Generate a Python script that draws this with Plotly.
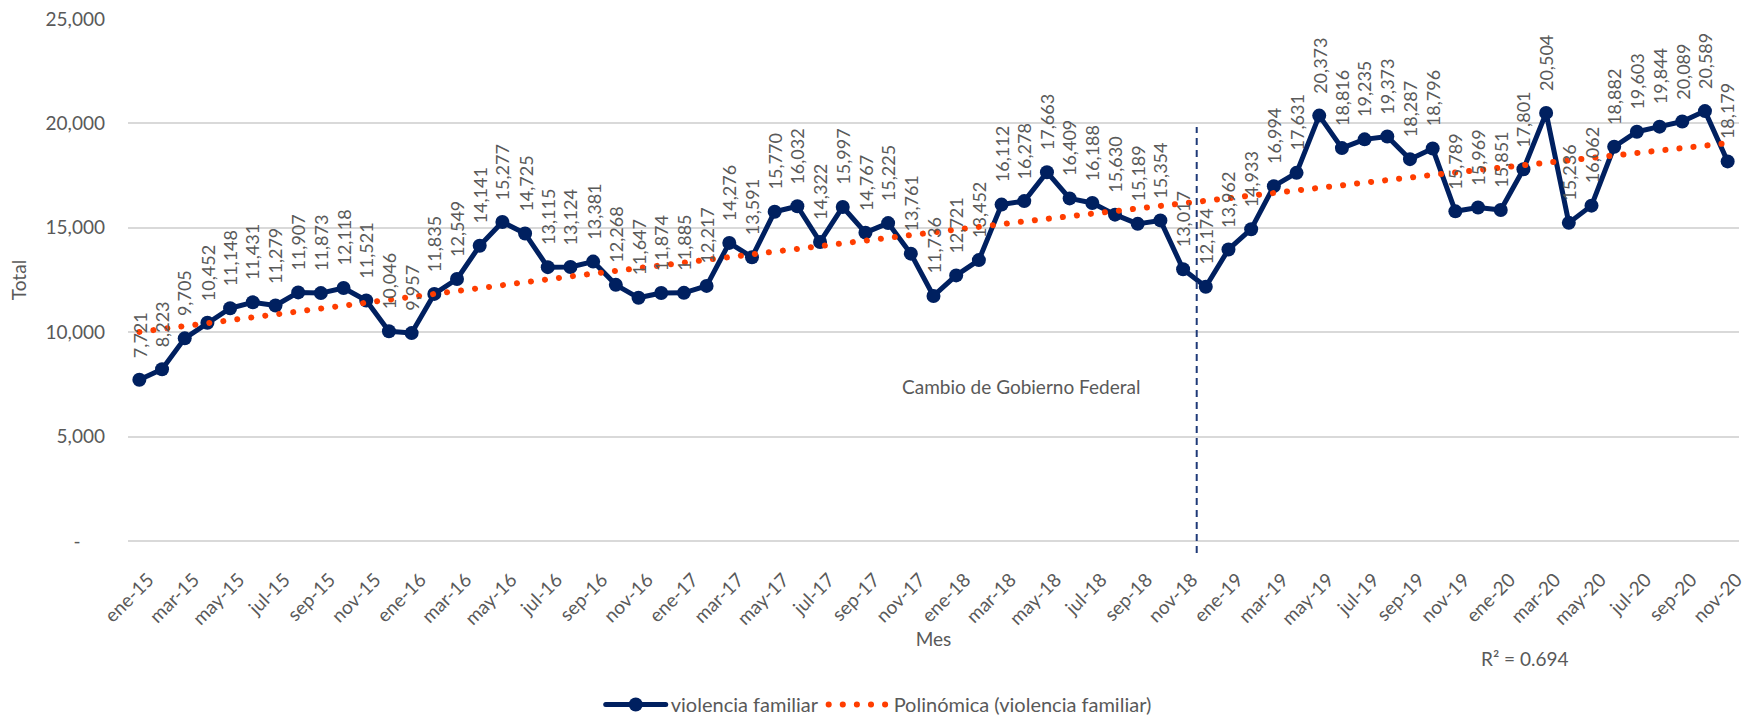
import numpy as np
import plotly.graph_objects as go

# Meses (ene-15 a nov-20)
meses = [
    "ene-15", "feb-15", "mar-15", "abr-15", "may-15", "jun-15", "jul-15", "ago-15", "sep-15", "oct-15", "nov-15", "dic-15",
    "ene-16", "feb-16", "mar-16", "abr-16", "may-16", "jun-16", "jul-16", "ago-16", "sep-16", "oct-16", "nov-16", "dic-16",
    "ene-17", "feb-17", "mar-17", "abr-17", "may-17", "jun-17", "jul-17", "ago-17", "sep-17", "oct-17", "nov-17", "dic-17",
    "ene-18", "feb-18", "mar-18", "abr-18", "may-18", "jun-18", "jul-18", "ago-18", "sep-18", "oct-18", "nov-18", "dic-18",
    "ene-19", "feb-19", "mar-19", "abr-19", "may-19", "jun-19", "jul-19", "ago-19", "sep-19", "oct-19", "nov-19", "dic-19",
    "ene-20", "feb-20", "mar-20", "abr-20", "may-20", "jun-20", "jul-20", "ago-20", "sep-20", "oct-20", "nov-20",
]

# Carpetas de investigación por violencia familiar
violencia_familiar = [
    7721, 8223, 9705, 10452, 11148, 11431, 11279, 11907, 11873, 12118, 11521, 10046,
    9957, 11835, 12549, 14141, 15277, 14725, 13115, 13124, 13381, 12268, 11647, 11874,
    11885, 12217, 14276, 13591, 15770, 16032, 14322, 15997, 14767, 15225, 13761, 11736,
    12721, 13452, 16112, 16278, 17663, 16409, 16188, 15630, 15189, 15354, 13017, 12174,
    13962, 14933, 16994, 17631, 20373, 18816, 19235, 19373, 18287, 18796, 15789, 15969,
    15851, 17801, 20504, 15236, 16062, 18882, 19603, 19844, 20089, 20589, 18179,
]

y_ticks = [0, 5000, 10000, 15000, 20000, 25000]
y_ticktext = ["-\u00a0\u00a0\u00a0\u00a0\u00a0", "5,000", "10,000", "15,000", "20,000", "25,000"]
x_ticks = meses[::2]

# Línea de tendencia polinómica (orden 2) ajustada a la serie
idx = np.arange(len(violencia_familiar))
coef = np.polyfit(idx, np.array(violencia_familiar, dtype=float), 2)
tendencia = np.polyval(coef, idx)

AZUL = "#002060"
NARANJA = "#FF3D00"
GRIS = "#595959"
FUENTE = "Lato"
TAM = 19

fig = go.Figure()
fig.add_trace(go.Scatter(
    x=meses, y=violencia_familiar, mode="lines+markers",
    name="violencia familiar",
    line=dict(color=AZUL, width=5),
    marker=dict(color=AZUL, size=14),
))
fig.add_trace(go.Scatter(
    x=meses, y=tendencia, mode="lines",
    name="Polinómica (violencia familiar)",
    line=dict(color=NARANJA, width=6, dash="0.1px,14px"),
))

# Etiquetas de datos verticales
for m, v in zip(meses, violencia_familiar):
    fig.add_annotation(
        x=m, y=v, text=f"{v:,}", textangle=-90, showarrow=False,
        xanchor="center", yanchor="bottom", yshift=20,
        font=dict(family=FUENTE, size=18, color=GRIS),
    )

# Línea vertical: cambio de gobierno (entre nov-18 y dic-18)
fig.add_shape(
    type="line", xref="x", yref="paper", x0=46.6, x1=46.6, y0=-0.023, y1=0.793,
    line=dict(color="#1F3A78", width=2, dash="7px,5px"),
)
fig.add_annotation(
    x=38.85, y=7420, text="Cambio de Gobierno Federal", showarrow=False,
    font=dict(family=FUENTE, size=TAM, color=GRIS),
)
fig.add_annotation(
    xref="paper", yref="paper", x=0.867, y=-0.226, xanchor="center", yanchor="middle",
    text="R² = 0.694", showarrow=False,
    font=dict(family=FUENTE, size=TAM, color=GRIS),
)

fig.update_layout(
    width=1748, height=716,
    margin=dict(l=128, r=9, t=19, b=175, autoexpand=False),
    paper_bgcolor="white", plot_bgcolor="white",
    font=dict(family=FUENTE, size=TAM, color=GRIS),
    showlegend=True,
    legend=dict(
        orientation="h", x=0.466, xanchor="center",
        yref="container", y=0.016, yanchor="middle",
        font=dict(family=FUENTE, size=20, color=GRIS), itemwidth=60,
    ),
    xaxis=dict(
        type="category", categoryorder="array", categoryarray=meses,
        range=[-0.5, len(meses) - 0.5], automargin=False,
        tickmode="array", tickvals=x_ticks, ticktext=x_ticks, tickangle=-45,
        tickfont=dict(family=FUENTE, size=TAM, color=GRIS),
        ticklabelstandoff=23, ticklabelshift=9,
        showgrid=False, showline=False, zeroline=False, ticks="",
        title=dict(text="Mes", font=dict(family=FUENTE, size=TAM, color=GRIS), standoff=4),
    ),
    yaxis=dict(
        range=[0, 25000], tickmode="array", tickvals=y_ticks, ticktext=y_ticktext,
        automargin=False,
        tickfont=dict(family=FUENTE, size=TAM, color=GRIS),
        gridcolor="#D9D9D9", gridwidth=1.5,
        zeroline=True, zerolinecolor="#D9D9D9", zerolinewidth=1.5,
        showline=False, ticks="", ticklabelstandoff=22,
        title=dict(text="Total", font=dict(family=FUENTE, size=TAM, color=GRIS), standoff=13),
    ),
)

post = """
var s = document.createElement('style');
s.textContent = 'path.js-line { stroke-linecap: round; stroke-linejoin: round; }';
document.head.appendChild(s);
"""
fig.write_html("out.html", post_script=post)
